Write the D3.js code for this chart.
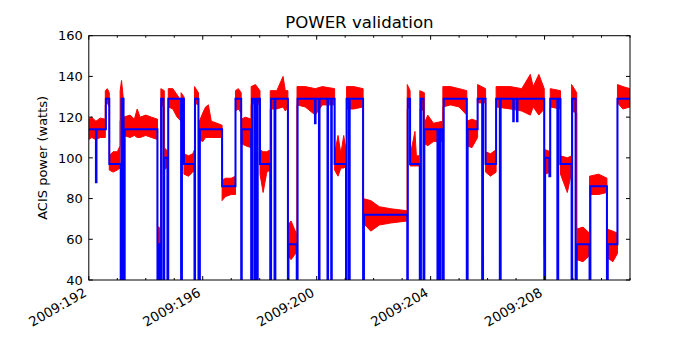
<!DOCTYPE html>
<html><head><meta charset="utf-8">
<script src="https://cdn.jsdelivr.net/npm/d3@7"></script>
<style>body{margin:0;background:#fff}svg{display:block}text{font-family:"DejaVu Sans",sans-serif}</style>
</head><body>
<svg id="c" width="700" height="350"></svg>
<script>
// Model (blue) step function: day-of-year and power
const modelTime = [192.00,192.25,192.27,192.60,192.72,193.12,193.15,193.22,193.26,194.41,194.45,194.52,194.54,194.62,194.65,194.76,194.79,195.24,195.27,195.34,195.71,195.73,195.85,195.90,196.68,197.15,197.35,197.37,197.70,197.73,197.81,197.85,197.90,197.93,198.01,198.37,198.40,198.52,198.55,198.99,199.01,199.30,199.33,199.94,199.96,200.08,200.10,200.38,200.40,200.51,200.53,200.63,201.03,201.05,201.13,201.16,201.63,201.66,203.18,203.20,203.28,203.62,203.66,203.75,203.78,204.24,204.27,204.32,204.35,204.43,204.46,205.27,205.30,205.65,205.81,205.84,205.93,206.30,206.43,206.46,206.90,206.92,207.03,207.05,207.99,208.02,208.17,208.20,208.45,208.48,208.56,208.95,208.97,209.09,209.13,209.58,209.61,210.19,210.22,210.56,211.00];
const modelPower = [114,88,114,129,97,0,129,0,114,0,57.5,0,129,0,100,0,129,0,129,97,0,129,0,114,86,129,0,114,0,129,0,129,0,129,97,0,129,0,129,0,57.5,0,129,117,129,0,129,0,129,0,129,97,0,129,0,129,0,72,0,129,97,0,129,0,114,0,114,0,114,0,129,0,114,129,0,129,97,129,0,129,118,129,118,129,0,100,91,129,0,129,97,0,129,0,57.5,0,86,0,57.5,129,129];

// Telemetry (red) envelope: time, low and high power
const telemTime = [192.00,192.10,192.25,192.40,192.58, 192.58,192.65,192.72, 192.72,192.85,193.00,193.10, 193.10,193.15,193.22, 193.22,193.45,193.60,193.70,193.80,194.00,194.20,194.41, 194.41,194.47,194.53, 194.53,194.65, 194.65,194.79, 194.79,194.95,195.10,195.24, 195.24,195.34, 195.34,195.50,195.65,195.71, 195.71,195.85, 195.85,196.00,196.10,196.20,196.30,196.50,196.68, 196.68,196.80,197.00,197.15, 197.15,197.25,197.35, 197.35,197.50,197.70, 197.70,197.85,198.01, 198.01,198.12,198.25,198.37, 198.37,198.60,198.82,198.90,198.99, 198.99,199.10,199.31, 199.31,199.60,199.95,200.20,200.63, 200.63,200.75,200.85,200.95,201.05, 201.05,201.30,201.63, 201.63,201.90,202.20,202.60,203.18, 203.18,203.28, 203.28,203.45,203.50,203.62, 203.62,203.78, 203.78,203.90,204.10,204.43, 204.43,204.70,205.00,205.27, 205.27,205.45,205.65, 205.65,205.93, 205.93,206.10,206.30, 206.30,206.80,207.20,207.50,207.60,207.80,207.99, 207.99,208.03, 208.03,208.20, 208.20,208.56, 208.56,208.80,208.95, 208.95,209.13, 209.13,209.35,209.58, 209.58,209.90,210.19, 210.19,210.40,210.56, 210.56,210.75,211.00];
const telemLow = [109,110,109,110,110, 126,127,125, 94,93,94,95, 118,120,117, 111,110,111,110,110,111,110,109, 56,54,57, 126,125, 94,96, 125,124,120,118, 120,118, 92,91,93,94, 127,126, 109,108,110,110,110,110,110, 79,81,82,82, 123,124,122, 107,106,105, 126,127,126, 92,83,93,94, 124,124,125,123,125, 52,50,54, 126,125,121,126,126, 94,91,95,95,96, 124,124,125, 68,64,67,68,69, 124,125, 96,96,96,96, 124,123, 107,106,108,108, 125,126,125,121, 106,105,110, 127,127, 93,91,93, 125,124,123,121,125,121,124, 51,51, 92,93, 125,124, 92,83,93, 123,122, 50,49,52, 82,82,83, 51,49,53, 127,124,125];
const telemHigh = [119,120,118,119.5,119, 133,134,132, 101,103,103,106, 133,138,128, 120,121,119,124,120,121,120,119, 66,66,62, 134,133, 105,103, 134,134,131,128, 132,130, 102,101,102,104, 135,132, 117,122,125,126,118,117,116, 89,90,90,91, 133,134,132, 119,120,119, 135,136,133, 104,103,103,104, 133,133,140,133,133, 67,69,62, 135,135,134,135,134, 102,111,102,111,102, 135,135,134, 80,79,76,75,74, 136,133, 101,113,101,101, 133,132, 117,121,117,118, 135,135,134,133, 118,119,118, 136,134, 103,102,104, 135,135,134,141,135,141,134, 57,57, 104,103, 134,133, 101,100,101, 136,132, 65,66,63, 91,92,90, 65,64,63, 136,135,134];

const yTicks = [40,60,80,100,120,140,160];
const xMajor = [192,196,200,204,208];
const xMinor = d3.range(192, 212);
const xDomain = [192, 211];
const yDomain = [40, 160];

const svg = d3.select("#c");
const m = {l:88.8, r:630, t:35.7, b:280};
const x = d3.scaleLinear().domain(xDomain).range([m.l, m.r]);
const y = d3.scaleLinear().domain(yDomain).range([m.b, m.t]);

svg.append("clipPath").attr("id","clip").append("rect")
  .attr("x",m.l).attr("y",m.t).attr("width",m.r-m.l).attr("height",m.b-m.t);
const g = svg.append("g").attr("clip-path","url(#clip)");

const tel = telemTime.map((t,i)=>({t, lo:telemLow[i], hi:telemHigh[i]}));
g.append("path").datum(tel)
  .attr("d", d3.area().x(d=>x(d.t)).y0(d=>y(d.lo)).y1(d=>y(d.hi)))
  .attr("fill","#ff0000").attr("stroke","#ff0000").attr("stroke-width",1);

const mod = modelTime.map((t,i)=>({t, p:modelPower[i]}));
g.append("path").datum(mod)
  .attr("d", d3.line().x(d=>x(d.t)).y(d=>y(d.p)).curve(d3.curveStepAfter))
  .attr("fill","none").attr("stroke","#0000ff").attr("stroke-width",2);

// frame
svg.append("rect").attr("x",m.l).attr("y",m.t).attr("width",m.r-m.l).attr("height",m.b-m.t)
  .attr("fill","none").attr("stroke","#000").attr("stroke-width",1);

// ticks (inside, all four sides)
const ax = svg.append("g").attr("stroke","#000").attr("stroke-width",1);
yTicks.forEach(v=>{
  ax.append("line").attr("x1",m.l).attr("x2",m.l+4).attr("y1",y(v)).attr("y2",y(v));
  ax.append("line").attr("x1",m.r).attr("x2",m.r-4).attr("y1",y(v)).attr("y2",y(v));
});
xMinor.forEach(d=>{
  const len = xMajor.includes(d) ? 4 : 2;
  ax.append("line").attr("x1",x(d)).attr("x2",x(d)).attr("y1",m.b).attr("y2",m.b-len);
  ax.append("line").attr("x1",x(d)).attr("x2",x(d)).attr("y1",m.t).attr("y2",m.t+len);
});
const yAxis = d3.axisLeft(y).tickValues(yTicks).tickSize(0).tickPadding(6);
const ya = svg.append("g").attr("transform",`translate(${m.l},0)`).call(yAxis);
ya.select(".domain").remove();
ya.selectAll("text").attr("font-size",13).attr("fill","#000").attr("font-family","DejaVu Sans");

xMajor.forEach(d=>{
  svg.append("text").attr("transform",`translate(${x(d)-6},${m.b+7}) rotate(-30)`)
    .attr("text-anchor","end").attr("dy","0.71em").attr("font-size",13.3).text("2009:"+d);
});

svg.append("text").attr("x",(m.l+m.r)/2).attr("y",28).attr("text-anchor","middle")
  .attr("font-size",16.6).text("POWER validation");
svg.append("text").attr("transform",`translate(47,${(m.t+m.b)/2}) rotate(-90)`)
  .attr("text-anchor","middle").attr("font-size",13).text("ACIS power (watts)");
</script>
</body></html>
